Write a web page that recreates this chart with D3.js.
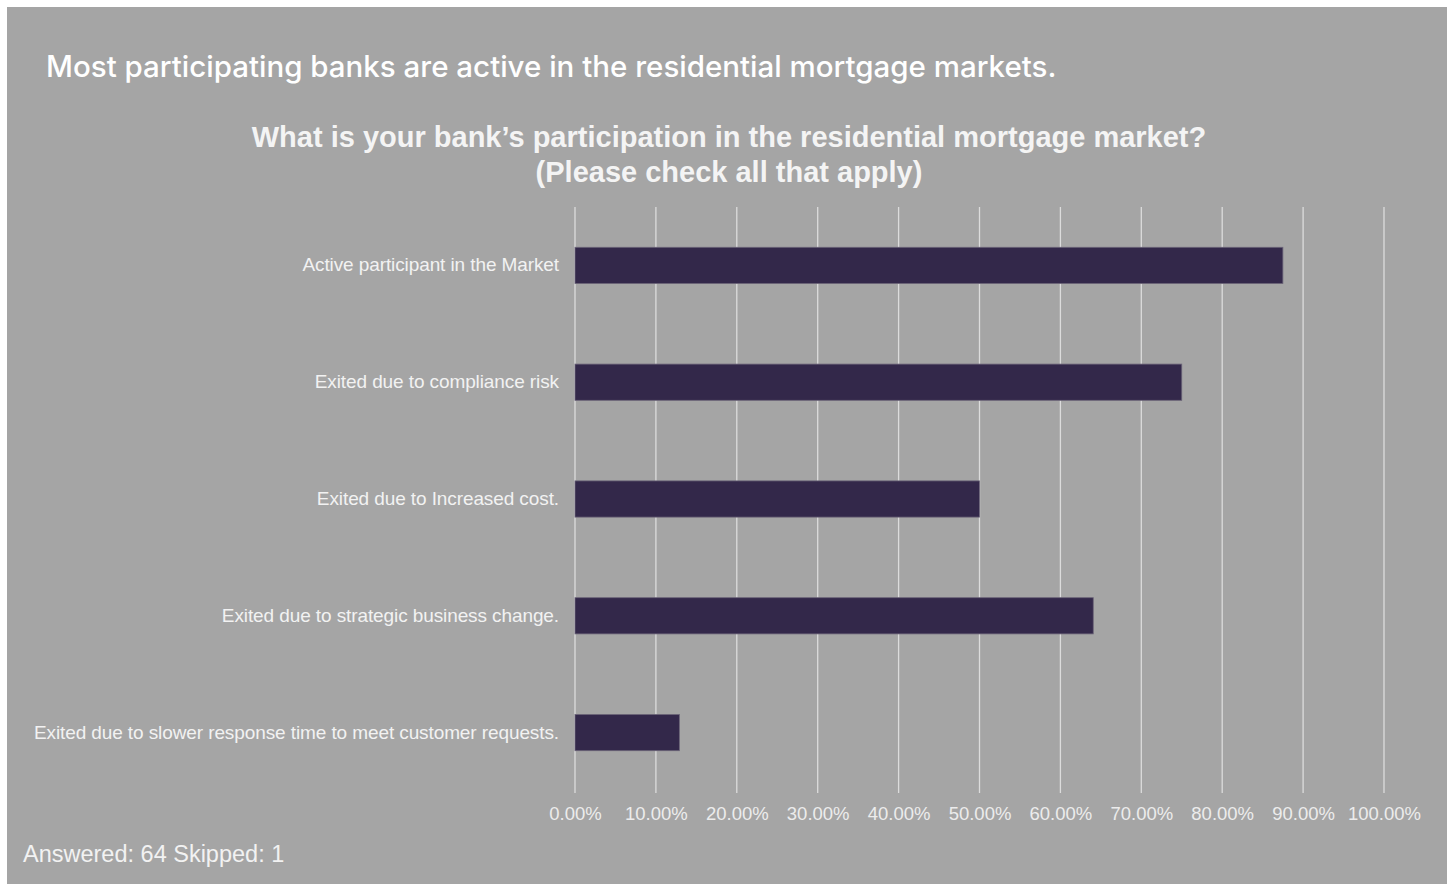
<!DOCTYPE html>
<html>
<head>
<meta charset="utf-8">
<script src="https://cdn.jsdelivr.net/npm/d3@7"></script>
<style>
  html, body { margin: 0; padding: 0; background: #ffffff; }
  svg { display: block; }
</style>
</head>
<body>
<svg id="chart" width="1453" height="884"></svg>
<script>
// Survey answers: share of respondents choosing each option
const categories = [
  "Active participant in the Market",
  "Exited due to compliance risk",
  "Exited due to Increased cost.",
  "Exited due to strategic business change.",
  "Exited due to slower response time to meet customer requests."
];
const shares = [87.5, 75.0, 50.0, 64.06, 12.9];
const tickValues = [0, 10, 20, 30, 40, 50, 60, 70, 80, 90, 100];

const headline = "Most participating banks are active in the residential mortgage markets.";
const titleLines = [
  "What is your bank\u2019s participation in the residential mortgage market?",
  "(Please check all that apply)"
];
const footnote = "Answered: 64 Skipped: 1";

const W = 1453, H = 884;
const svg = d3.select("#chart");

// slide panel
svg.append("rect")
  .attr("x", 7).attr("y", 7)
  .attr("width", 1440).attr("height", H - 7)
  .attr("fill", "#a5a5a5");

svg.append("text")
  .attr("x", 46).attr("y", 77)
  .attr("font-family", "Inter, 'Open Sans', sans-serif")
  .attr("font-weight", 500)
  .attr("font-size", 29.5)
  .attr("fill", "#ffffff")
  .text(headline);

svg.selectAll("text.title")
  .data(titleLines)
  .join("text")
  .attr("class", "title")
  .attr("x", 729)
  .attr("y", (d, i) => 147 + i * 35)
  .attr("text-anchor", "middle")
  .attr("font-family", "'Liberation Sans', Arial, sans-serif")
  .attr("font-weight", "bold")
  .attr("font-size", 29)
  .attr("fill", "#f4f4f4")
  .text(d => d);

const plot = { left: 575, right: 1384, top: 207, bottom: 791 };

const x = d3.scaleLinear().domain([0, 100]).range([plot.left, plot.right]);
const y = d3.scaleBand()
  .domain(categories)
  .range([plot.top, plot.bottom])
  .paddingInner(0.69)
  .paddingOuter(0.345);

// vertical gridlines
svg.append("g")
  .selectAll("line")
  .data(tickValues)
  .join("line")
  .attr("x1", d => x(d)).attr("x2", d => x(d))
  .attr("y1", plot.top).attr("y2", plot.bottom + 2)
  .attr("stroke", "#dcdcdc")
  .attr("stroke-width", 1.3);

// x axis labels
const xAxis = d3.axisBottom(x)
  .tickValues(tickValues)
  .tickSize(0)
  .tickPadding(0)
  .tickFormat(d => d.toFixed(2) + "%");

const gx = svg.append("g")
  .attr("transform", `translate(0,${plot.bottom + 16})`)
  .call(xAxis);
gx.select(".domain").remove();
gx.selectAll("text")
  .attr("font-family", "'Liberation Sans', Arial, sans-serif")
  .attr("font-size", 18.5)
  .attr("fill", "#ececec");

// category labels
const yAxis = d3.axisLeft(y).tickSize(0).tickPadding(16);
const gy = svg.append("g")
  .attr("transform", `translate(${plot.left},0)`)
  .call(yAxis);
gy.select(".domain").remove();
gy.selectAll("text")
  .attr("font-family", "'Liberation Sans', Arial, sans-serif")
  .attr("font-size", 19)
  .attr("letter-spacing", -0.1)
  .attr("fill", "#f2f2f2");

// bars
svg.append("g")
  .selectAll("rect")
  .data(categories.map((c, i) => ({ c, v: shares[i] })))
  .join("rect")
  .attr("x", x(0))
  .attr("y", d => y(d.c))
  .attr("width", d => x(d.v) - x(0))
  .attr("height", y.bandwidth())
  .attr("fill", "#33284a")
  .attr("stroke", "#6b6478")
  .attr("stroke-width", 0.8);

svg.append("text")
  .attr("x", 23).attr("y", 862)
  .attr("font-family", "'Liberation Sans', Arial, sans-serif")
  .attr("font-size", 23.5)
  .attr("fill", "#f2f2f2")
  .text(footnote);
</script>
</body>
</html>
